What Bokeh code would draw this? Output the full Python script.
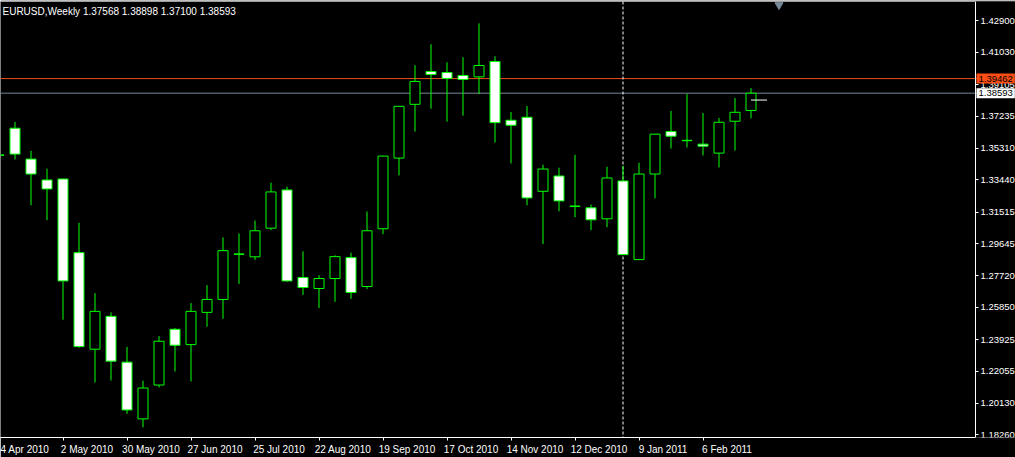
from bokeh.plotting import figure
from bokeh.models import (Range1d, FixedTicker, NumeralTickFormatter, Span, Label,
                          ColumnDataSource, LinearAxis)
from bokeh.embed import file_html
from bokeh.resources import INLINE

symbol = "EURUSD"
timeframe = "Weekly"

# bar index: -1 = week of 4 Apr 2010 ... 46 = week of 27 Feb 2011
bar_index = list(range(-1, 47))
opens = [1.34920, 1.36509, 1.34673, 1.33429, 1.33488, 1.29105, 1.23360, 1.25315, 1.22590, 1.19214,
         1.21228, 1.24545, 1.23633, 1.25552, 1.26322, 1.29030, 1.28857, 1.30562, 1.32837, 1.27625,
         1.26973, 1.27565, 1.28809, 1.27092, 1.30527, 1.34732, 1.37931, 1.39885, 1.39826, 1.39648,
         1.39565, 1.40478, 1.36983, 1.37161, 1.32754, 1.33666, 1.31880, 1.31771, 1.31119, 1.33370,
         1.28691, 1.33785, 1.36308, 1.35790, 1.35561, 1.35028, 1.36924, 1.37568]
highs = [1.35600, 1.36882, 1.35165, 1.34098, 1.33500, 1.30882, 1.26695, 1.25552, 1.23496, 1.21482,
         1.24148, 1.24622, 1.26102, 1.27169, 1.30012, 1.30249, 1.31018, 1.33269, 1.33032, 1.29182,
         1.27761, 1.28945, 1.29105, 1.31552, 1.34870, 1.37830, 1.40258, 1.41502, 1.40436, 1.40732,
         1.42746, 1.40791, 1.37475, 1.37830, 1.34335, 1.34158, 1.34928, 1.31966, 1.34217, 1.34276,
         1.34454, 1.36170, 1.37534, 1.38541, 1.37415, 1.37119, 1.38304, 1.38898]
lows = [1.34400, 1.34649, 1.31925, 1.31036, 1.25113, 1.23455, 1.21382, 1.21500, 1.19510, 1.18716,
        1.21086, 1.22033, 1.21441, 1.24699, 1.25173, 1.27246, 1.28667, 1.30444, 1.27380, 1.26594,
        1.25806, 1.26179, 1.26357, 1.26949, 1.30207, 1.33702, 1.36308, 1.37670, 1.36900, 1.37255,
        1.38541, 1.35656, 1.34412, 1.31925, 1.29615, 1.31569, 1.31214, 1.30444, 1.30622, 1.28960,
        1.28680, 1.32339, 1.35301, 1.35360, 1.34886, 1.34176, 1.35182, 1.37100]
closes = [1.34900, 1.34969, 1.33785, 1.32896, 1.27423, 1.23514, 1.25611, 1.22649, 1.19747, 1.21050,
          1.23834, 1.23597, 1.25611, 1.26322, 1.29224, 1.29005, 1.30408, 1.32718, 1.27423, 1.27032,
          1.27565, 1.28868, 1.26736, 1.30408, 1.34851, 1.37812, 1.39293, 1.39708, 1.39471, 1.39411,
          1.40241, 1.36841, 1.36687, 1.32363, 1.34081, 1.32185, 1.31855, 1.31060, 1.33548, 1.28987,
          1.33785, 1.36154, 1.36035, 1.35765, 1.35443, 1.36865, 1.37457, 1.38593]

x_tick_bars = [-1, 3, 7, 11, 15, 19, 23, 27, 31, 35, 39, 43]
x_tick_labels = ["4 Apr 2010", "2 May 2010", "30 May 2010", "27 Jun 2010", "25 Jul 2010",
                 "22 Aug 2010", "19 Sep 2010", "17 Oct 2010", "14 Nov 2010", "12 Dec 2010",
                 "9 Jan 2011", "6 Feb 2011"]
y_tick_values = [1.42900, 1.41030, 1.39105, 1.37235, 1.35310, 1.33440, 1.31515, 1.29645,
                 1.27720, 1.25850, 1.23925, 1.22055, 1.20130, 1.18260]

alert_price = 1.39462      # orange horizontal line
bid_price = 1.38593        # bid line
separator_bar = 38         # dashed vertical line
last_mark_price = 1.38185  # short white line at last bar
shift_marker_bar = 47.75

GREEN = "#00FF00"
FONT = "Liberation Sans"
SCALE_FONT_SIZE = "9.5px"

W, H = 1015, 457
top_b, bot_b = 1, 18
frame_w, frame_h = W, H - top_b - bot_b       # frame spans full width; price axis drawn inside
px_x = 1.0 / 16.0
px_y = 0.0005923
x0 = -14.5 * px_x
x1 = x0 + frame_w * px_x
x_axis_pos = x0 + 975 * px_x      # price-scale line position
x_box_pos = x0 + 976 * px_x
y_top = 1.429 + 19.4 * px_y
y_bot = y_top - frame_h * px_y

body_top = [max(o, c) for o, c in zip(opens, closes)]
body_bot = [min(o, c) for o, c in zip(opens, closes)]
fills = ["white" if c < o else "black" for o, c in zip(opens, closes)]

src = ColumnDataSource(dict(x=bar_index, o=opens, h=highs, l=lows, c=closes,
                            top=body_top, bot=body_bot, fill=fills))

p = figure(width=W, height=H,
           x_range=Range1d(x0, x1), y_range=Range1d(y_bot, y_top),
           output_backend="svg", toolbar_location=None,
           background_fill_color="black", border_fill_color="black",
           min_border_left=0, min_border_right=0, min_border_top=top_b, min_border_bottom=bot_b,
           y_axis_location=None)
p.outline_line_color = None
p.grid.visible = False

for loc, col, dim, dash in [(alert_price, "#E8501C", "width", "solid"),
                            (bid_price, "#778899", "width", "solid"),
                            (separator_bar, "white", "height", "3 2")]:
    p.add_layout(Span(location=loc, dimension=dim, line_color=col, line_width=1,
                      line_dash=dash, level="underlay"))

p.segment(x0="x", y0="l", x1="x", y1="h", source=src, line_color=GREEN, line_width=1)
p.vbar(x="x", width=0.625, top="top", bottom="bot", source=src,
       fill_color="fill", line_color=GREEN, line_width=1)

p.segment(x0=[bar_index[-1]], y0=[last_mark_price], x1=[bar_index[-1] + 1], y1=[last_mark_price],
          line_color="white", line_width=1)
p.scatter(x=[shift_marker_bar], y=[y_top - 3.5 * px_y], marker="inverted_triangle", size=8,
          fill_color="#778899", line_color="#778899")

# time axis
xa = p.xaxis[0]
xa.ticker = FixedTicker(ticks=[b + 1.5 for b in x_tick_bars], minor_ticks=x_tick_bars)
xa.major_label_overrides = {b + 1.5: t for b, t in zip(x_tick_bars, x_tick_labels)}
xa.bounds = (x0, x_axis_pos)
xa.axis_line_color = "white"
xa.major_tick_in = 0
xa.major_tick_out = 0
xa.minor_tick_in = 0
xa.minor_tick_out = 3
xa.minor_tick_line_color = "white"
xa.major_label_standoff = 3
xa.major_label_text_color = "white"
xa.major_label_text_font = FONT
xa.major_label_text_font_size = "10px"

# top border line
top_axis = LinearAxis(fixed_location=y_top, ticker=FixedTicker(ticks=[]), bounds=(x0, x_axis_pos),
                      axis_line_color="white", major_tick_line_color=None, minor_tick_line_color=None,
                      major_label_text_font_size="0px")
p.add_layout(top_axis, "above")

# price axis
ya = LinearAxis(fixed_location=x_axis_pos, ticker=FixedTicker(ticks=y_tick_values),
                formatter=NumeralTickFormatter(format="0.00000"))
ya.axis_line_color = "white"
ya.major_tick_in = 0
ya.major_tick_out = 3
ya.major_tick_line_color = "white"
ya.minor_tick_line_color = None
ya.major_label_standoff = 2
ya.major_label_text_color = "white"
ya.major_label_text_font = FONT
ya.major_label_text_font_size = SCALE_FONT_SIZE
p.add_layout(ya, "right")

title = f"{symbol},{timeframe}  {opens[-1]:.5f} {highs[-1]:.5f} {lows[-1]:.5f} {closes[-1]:.5f}"
p.add_layout(Label(x=x0, y=y_top, x_offset=2, y_offset=-4, text=title, text_color="white",
                   text_font=FONT, text_font_size="10px", text_baseline="top", text_align="left"))

for price, bg, fg in [(alert_price, "#FF4E14", "black"), (bid_price, "white", "black")]:
    p.add_layout(Label(x=x_box_pos, y=price, text=f"{price:.5f}", text_color=fg,
                       text_font=FONT, text_font_size=SCALE_FONT_SIZE, text_baseline="middle",
                       text_align="left", background_fill_color=bg, padding=2))

open("out.html", "w").write(file_html(p, INLINE))
